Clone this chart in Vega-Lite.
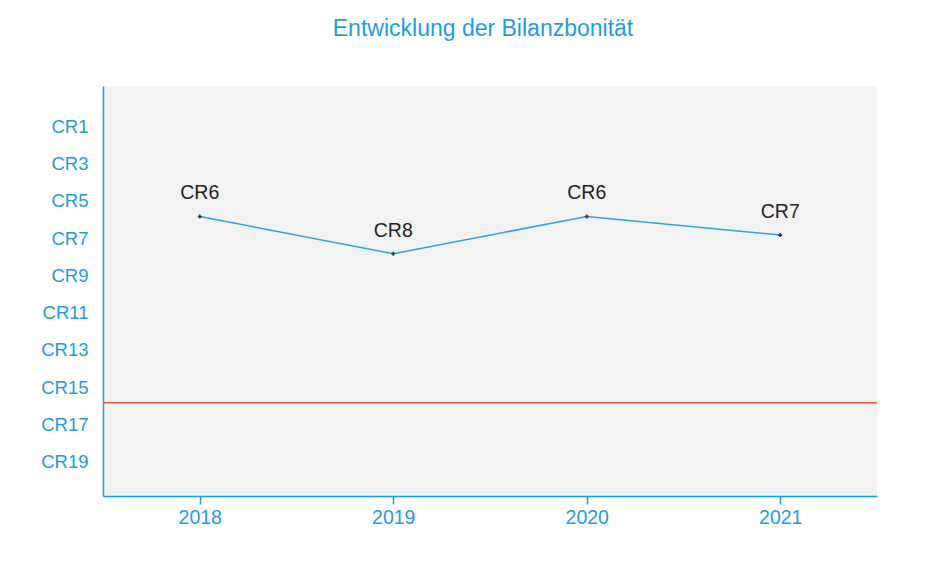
{
  "$schema": "https://vega.github.io/schema/vega-lite/v6.json",
  "autosize": {"type": "none"},
  "padding": {"left": 103, "top": 86, "right": 64, "bottom": 72},
  "width": 774,
  "height": 410,
  "background": "white",
  "title": {
    "text": "Entwicklung der Bilanzbonität",
    "anchor": "middle",
    "frame": "group",
    "offset": 45,
    "dx": -7,
    "font": "Liberation Sans",
    "fontSize": 23,
    "fontWeight": "normal",
    "color": "#1e9be0"
  },
  "config": {
    "view": {"fill": "#f2f2f2", "stroke": null},
    "font": "Liberation Sans"
  },
  "data": {
    "values": [
      {"year": "2018", "rating": 6, "label": "CR6"},
      {"year": "2019", "rating": 8, "label": "CR8"},
      {"year": "2020", "rating": 6, "label": "CR6"},
      {"year": "2021", "rating": 7, "label": "CR7"}
    ]
  },
  "encoding": {
    "x": {
      "field": "year",
      "type": "ordinal",
      "scale": {"type": "point", "padding": 0.5},
      "axis": {
        "title": null,
        "labelAngle": 0,
        "tickSize": 8,
        "tickWidth": 1.5,
        "domainWidth": 1.5,
        "domainColor": "#1e9be0",
        "tickColor": "#1e9be0",
        "labelColor": "#1e9be0",
        "labelFontSize": 19.5,
        "labelPadding": 4,
        "grid": false
      }
    },
    "y": {
      "field": "rating",
      "type": "quantitative",
      "scale": {"domain": [-1, 21], "reverse": true, "nice": false, "zero": false},
      "axis": {
        "title": null,
        "values": [1, 3, 5, 7, 9, 11, 13, 15, 17, 19],
        "labelExpr": "'CR' + datum.value",
        "ticks": false,
        "grid": false,
        "domainWidth": 1.5,
        "domainColor": "#1e9be0",
        "labelColor": "#1e9be0",
        "labelFontSize": 18.5,
        "labelPadding": 15,
        "labelOffset": 3
      }
    }
  },
  "layer": [
    {
      "data": {"values": [{"threshold": 16}]},
      "mark": {"type": "rule", "color": "#f05a3c", "strokeWidth": 1.5},
      "encoding": {
        "x": null,
        "y": {"field": "threshold", "type": "quantitative"}
      }
    },
    {
      "mark": {"type": "line", "color": "#29a3e0", "strokeWidth": 1.5}
    },
    {
      "mark": {"type": "point", "shape": "cross", "size": 16, "filled": true, "color": "#333333", "opacity": 1}
    },
    {
      "mark": {"type": "text", "dy": -23, "fontSize": 19.5, "color": "#222222"},
      "encoding": {"text": {"field": "label"}}
    }
  ]
}
